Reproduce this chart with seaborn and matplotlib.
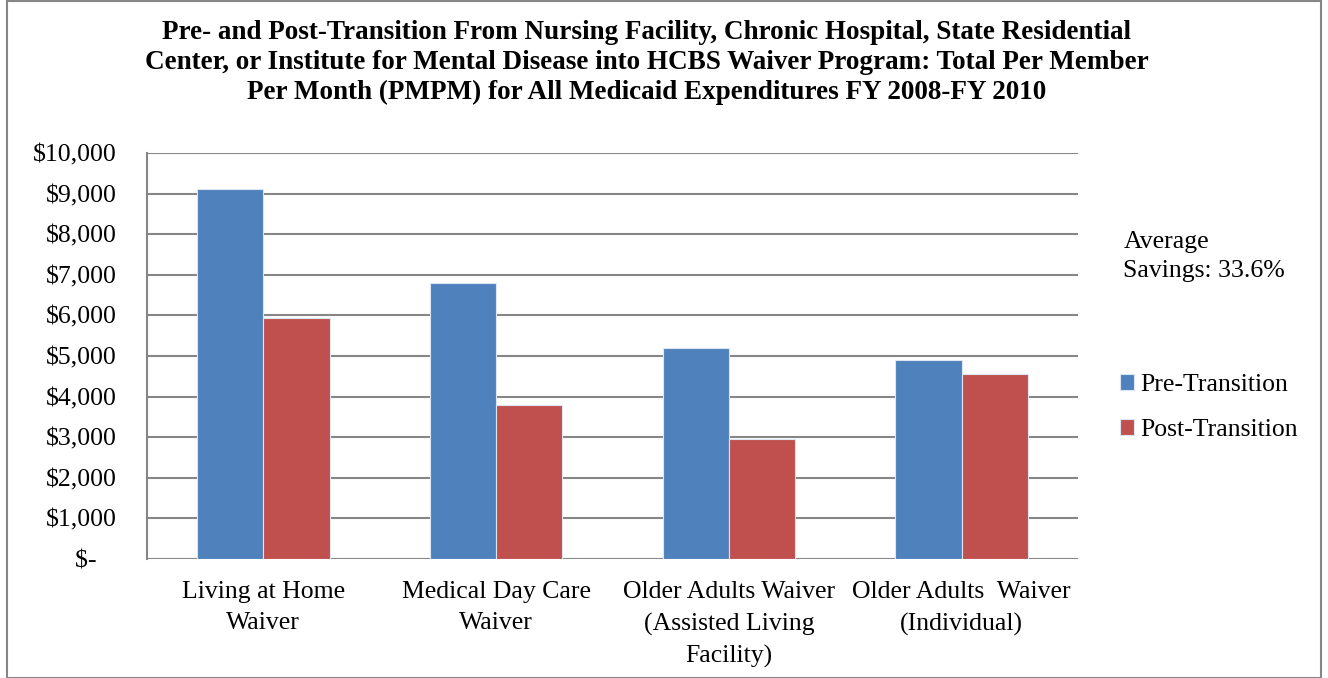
import matplotlib
matplotlib.use("Agg")
import matplotlib.pyplot as plt
import pandas as pd
import seaborn as sns
from matplotlib.patches import Rectangle

programs = [
    "Living at Home\nWaiver",
    "Medical Day Care\nWaiver",
    "Older Adults Waiver\n(Assisted Living\nFacility)",
    "Older Adults  Waiver\n(Individual)",
]
pre_transition = [9110, 6805, 5190, 4895]
post_transition = [5945, 3790, 2950, 4555]
series = ["Pre-Transition", "Post-Transition"]
y_ticks = [0, 1000, 2000, 3000, 4000, 5000, 6000, 7000, 8000, 9000, 10000]
y_labels = ["$-   ", "$1,000", "$2,000", "$3,000", "$4,000", "$5,000",
            "$6,000", "$7,000", "$8,000", "$9,000", "$10,000"]

df = pd.DataFrame({
    "program": programs * 2,
    "series": [series[0]] * 4 + [series[1]] * 4,
    "pmpm": pre_transition + post_transition,
})

sns.set_style("white")
plt.rcParams["font.family"] = ["Liberation Serif", "DejaVu Serif"]
plt.rcParams["text.color"] = "black"
plt.rcParams["xtick.color"] = "black"
plt.rcParams["ytick.color"] = "black"

fig = plt.figure(figsize=(13.28, 6.78), dpi=100)
ax = fig.add_axes([0.1107, 0.1755, 0.701, 0.5988])

sns.barplot(data=df, x="program", y="pmpm", hue="series", order=programs,
            hue_order=series, palette=["#4F81BD", "#C0504D"], width=0.57,
            edgecolor="#DCE6F2", linewidth=0.8, saturation=1, ax=ax, zorder=3)

ax.set_ylim(0, 10000)
ax.set_xlim(-0.5, 3.5)
ax.set_yticks(y_ticks)
ax.set_yticklabels(y_labels, fontsize=18.5)
for lbl in ax.get_xticklabels():
    lbl.set_linespacing(1.52)
ax.tick_params(axis="x", length=0, pad=16, labelsize=18.5, labelcolor="black")
ax.tick_params(axis="y", length=0, pad=22, labelcolor="black")
ax.set_xlabel("")
ax.set_ylabel("")
ax.grid(axis="y", color="#868686", linewidth=1.5, zorder=0)
ax.set_axisbelow(True)
for side in ["top", "right", "bottom"]:
    ax.spines[side].set_visible(False)
ax.spines["left"].set_color("#868686")
ax.spines["left"].set_linewidth(1.5)

ax.legend(loc="upper left", bbox_to_anchor=(1.02, 0.513), frameon=False,
          fontsize=18.5, handlelength=0.55, handleheight=0.55, handletextpad=0.25,
          labelspacing=0.9, labelcolor="black")

fig.text(0.487, 0.97,
         "Pre- and Post-Transition From Nursing Facility, Chronic Hospital, State Residential\n"
         "Center, or Institute for Mental Disease into HCBS Waiver Program: Total Per Member\n"
         "Per Month (PMPM) for All Medicaid Expenditures FY 2008-FY 2010",
         ha="center", va="top", fontsize=19.5, fontweight="bold", linespacing=1.25,
         color="black")

fig.text(0.846, 0.66, "Average\nSavings: 33.6%", ha="left", va="top",
         fontsize=18.5, linespacing=1.45, color="black")

fig.patches.append(Rectangle((0.005, 0.0), 0.99, 0.998, transform=fig.transFigure,
                             fill=False, edgecolor="#868686", linewidth=1.5))

fig.savefig("out.png", dpi=100)
